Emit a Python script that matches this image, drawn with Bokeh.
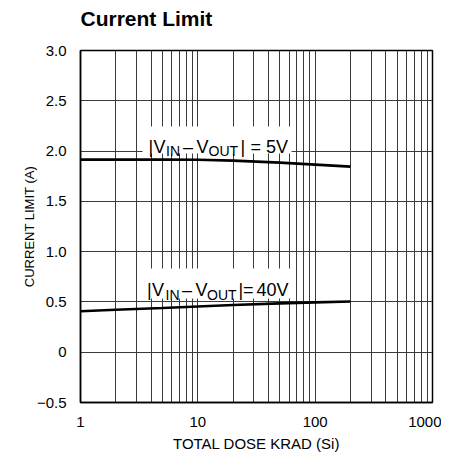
from bokeh.plotting import figure
from bokeh.models import FixedTicker, Label, BoxAnnotation, Title
from bokeh.embed import file_html
from bokeh.resources import INLINE

# ---- data ----
dose = [1, 2, 5, 10, 20, 50, 100, 200]
ilim_5v = [1.915, 1.915, 1.915, 1.913, 1.905, 1.885, 1.865, 1.845]
ilim_40v = [0.408, 0.422, 0.440, 0.455, 0.470, 0.486, 0.496, 0.504]

x_ticks = [1, 10, 100, 1000]
x_tick_labels = ["1", "10", "100", "1000"]
y_ticks = [-0.5, 0, 0.5, 1.0, 1.5, 2.0, 2.5, 3.0]
y_tick_labels = ["\u22120.5", "0", "0.5", "1.0", "1.5", "2.0", "2.5", "3.0"]

FONT = "Liberation Sans"

p = figure(frame_width=352, frame_height=352, x_axis_type="log",
           x_range=(1, 1000), y_range=(-0.5, 3.0),
           output_backend="svg", toolbar_location=None, title=None,
           min_border_left=80, min_border_right=9, min_border_bottom=49,
           min_border_top=0)

# spacer between frame and title, then the title itself
p.add_layout(Title(text=" ", text_font_size="1px", standoff=14), "above")
p.add_layout(Title(text="Current Limit", text_font=FONT, text_font_size="21px",
                   text_font_style="bold", text_color="black", align="left",
                   offset=0, standoff=8), "above")

p.outline_line_color = "black"
p.outline_line_width = 1.5

# grids
minor = [m * 10 ** d for d in range(3) for m in range(1, 10)] + [1000]
p.xgrid.ticker = FixedTicker(ticks=minor)
p.ygrid.ticker = FixedTicker(ticks=y_ticks)
for g in (p.xgrid, p.ygrid):
    g.grid_line_color = "#3a3a3a"
    g.grid_line_width = 1
    g.grid_line_alpha = 1.0

# axes
p.xaxis.ticker = FixedTicker(ticks=x_ticks)
p.xaxis.major_label_overrides = dict(zip(x_ticks, x_tick_labels))
p.yaxis.ticker = FixedTicker(ticks=y_ticks)
p.yaxis.major_label_overrides = dict(zip(y_ticks, y_tick_labels))
p.xaxis.axis_label = "TOTAL DOSE KRAD (Si)"
p.yaxis.axis_label = "CURRENT LIMIT (A)"
for ax in (p.xaxis, p.yaxis):
    ax.axis_line_color = "black"
    ax.axis_line_width = 1.5
    ax.major_tick_line_color = None
    ax.minor_tick_line_color = None
    ax.major_label_text_font = FONT
    ax.major_label_text_font_size = "15px"
    ax.major_label_text_color = "black"
    ax.axis_label_text_font = FONT
    ax.axis_label_text_font_style = "normal"
    ax.axis_label_text_color = "black"
p.xaxis.axis_label_text_font_size = "15px"
p.yaxis.axis_label_text_font_size = "13px"
p.xaxis.major_label_standoff = 8
p.yaxis.major_label_standoff = 8
p.xaxis.axis_label_standoff = 5
p.yaxis.axis_label_standoff = -3

# data lines
p.line(dose, ilim_5v, line_color="black", line_width=2.6)
p.line(dose, ilim_40v, line_color="black", line_width=2.6)

# ---- annotation labels (pixel -> data helper) ----
FL, FT, DEC, UNIT = 80.0, 51.0, 117.3, 100.57

def dx(px):
    return 10 ** ((px - FL) / DEC)

def dy(py):
    return 3.0 - (py - FT) / UNIT

def box(x0, x1, y0, y1):
    p.add_layout(BoxAnnotation(left=dx(x0), right=dx(x1), top=dy(y0), bottom=dy(y1),
                               fill_color="white", fill_alpha=1.0, line_color=None,
                               level="underlay"))

def txt(px, py, s, size):
    p.add_layout(Label(x=dx(px), y=dy(py), text=s, text_font=FONT,
                       text_font_size=size, text_color="black",
                       text_baseline="alphabetic", text_align="left"))

box(142, 291, 127, 154)
box(142, 291, 269, 299)

MAIN, SUB = "18px", "14px"

def vlabel(xs, base, sub, tail):
    txt(xs[0], base, "|", MAIN)
    txt(xs[1], base, "V", MAIN)
    txt(xs[2], sub, "IN", SUB)
    txt(xs[3], base, "\u2013", MAIN)
    txt(xs[4], base, "V", MAIN)
    txt(xs[5], sub, "OUT", SUB)
    txt(xs[6], base, "|", MAIN)
    txt(xs[7], base, "=", MAIN)
    txt(xs[8], base, tail, MAIN)

vlabel([148, 153, 165.5, 182.5, 196, 208, 240, 250, 265.5], 147.3, 151.5, "5V")
vlabel([146.5, 151.5, 165, 181.5, 195, 206.5, 238, 242.5, 256], 290.3, 295.3, "40V")

open("out.html", "w").write(file_html(p, INLINE))
